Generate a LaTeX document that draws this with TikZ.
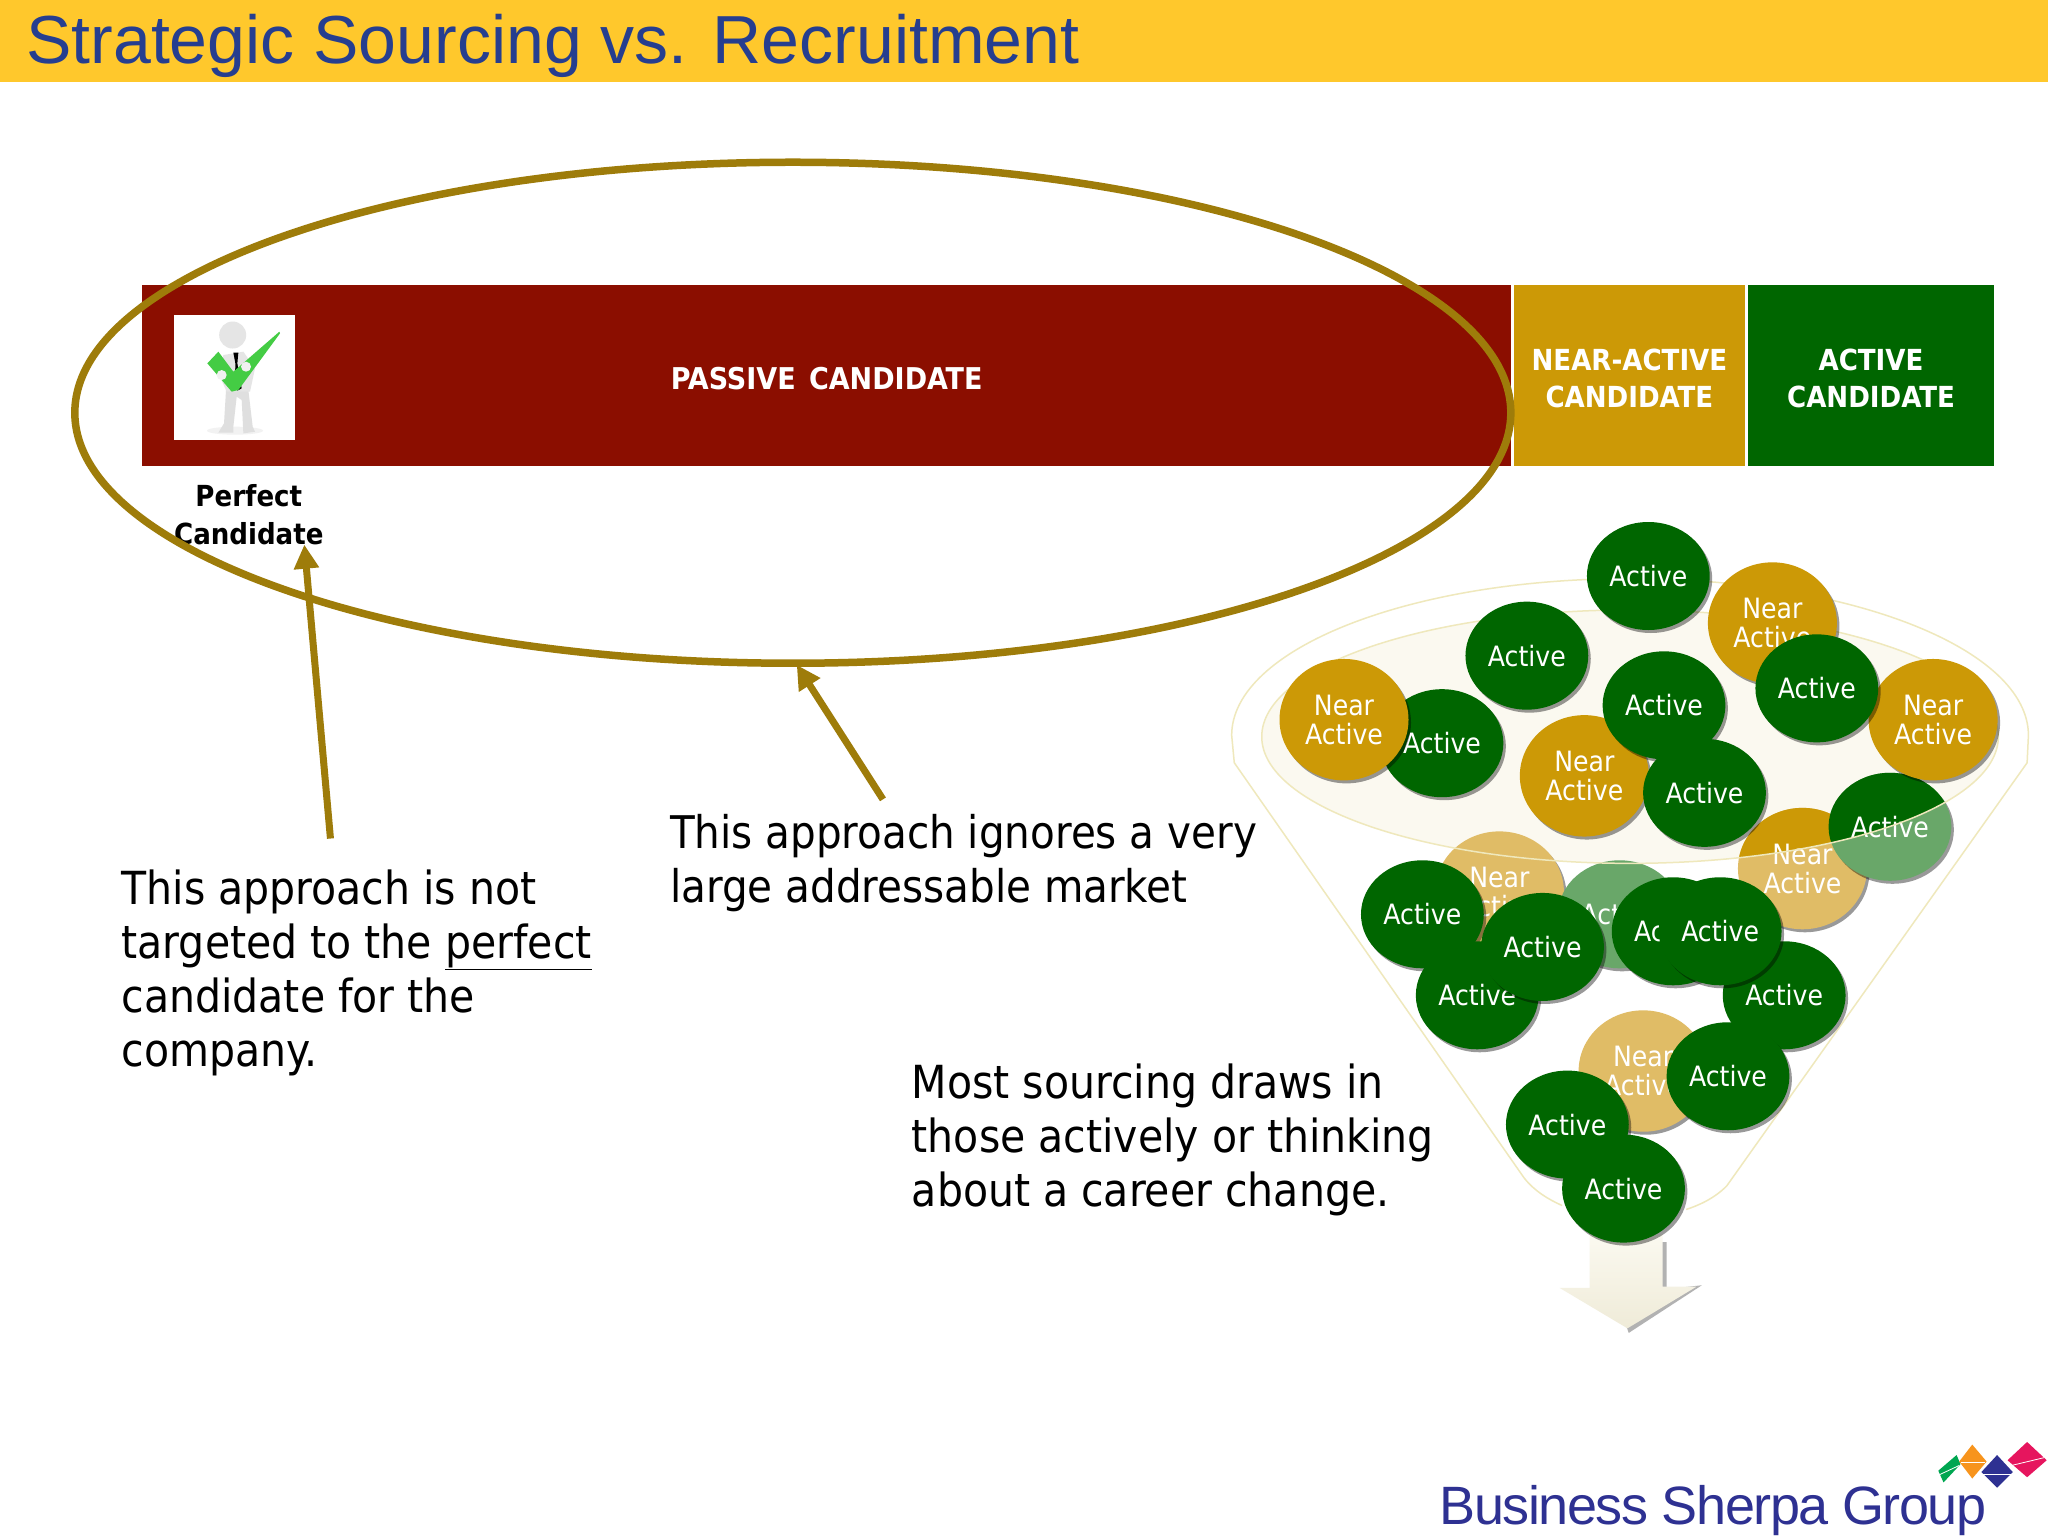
\documentclass[tikz,border=0pt]{standalone}
\usepackage{fontspec}
\setmainfont{DejaVu Sans Condensed}
\newfontfamily\arialf{Liberation Sans}
\usetikzlibrary{shapes.geometric,shadows,arrows.meta}
\definecolor{bandc}{HTML}{FFC82C}
\definecolor{titlec}{HTML}{263E8F}
\definecolor{redc}{HTML}{8B0E00}
\definecolor{goldc}{HTML}{CC9906}
\definecolor{greenc}{HTML}{006600}
\definecolor{lgoldc}{HTML}{E0BC66}
\definecolor{lgreenc}{HTML}{69A769}
\definecolor{ringc}{HTML}{9E7C0A}
\definecolor{funlc}{HTML}{EFE8BC}
\definecolor{creamc}{HTML}{FBF9F0}
\definecolor{arrowc}{HTML}{EFEBD8}
\definecolor{logoc}{HTML}{2E3192}
\definecolor{checkc}{HTML}{44CC44}
\definecolor{pinkc}{HTML}{E6155E}
\definecolor{orangec}{HTML}{F7941D}
\definecolor{dgreenc}{HTML}{00A651}
\tikzset{
 blob/.style={ellipse,inner sep=0pt,text=white,align=center,font=\fontsize{28}{29}\selectfont,
   drop shadow={shadow xshift=2.5pt,shadow yshift=-3pt,opacity=.4,fill=black}},
 act/.style={blob,fill=greenc,minimum width=122.8pt,minimum height=108pt},
 nearb/.style={blob,fill=goldc,minimum width=129pt,minimum height=121.4pt},
 actlt/.style={act,fill=lgreenc},
 nearlt/.style={nearb,fill=lgoldc},
 bar/.style={rectangle,inner sep=0pt,minimum height=181.5pt},
 bartext/.style={inner sep=0pt,text=white,align=center,font=\fontsize{29}{37}\selectfont\bfseries},
 ring/.style={draw=ringc,line width=7.5pt},
 pointer/.style={draw=ringc,line width=7pt,-{Triangle[length=24pt,width=24pt]}},
 body/.style={text=black,align=left,inner sep=0pt,anchor=north west,font=\fontsize{45.6}{54}\selectfont},
 funl/.style={draw=funlc,line width=1.5pt},
 blobtext/.style={text=white,align=center,inner sep=0pt,font=\fontsize{28}{29}\selectfont},
}
\begin{document}
\begin{tikzpicture}[x=1.30612pt,y=-1.30612pt]
\useasboundingbox (0,0) rectangle (1568,1176);
\fill[white] (0,0) rectangle (1568,1176);
% title band
\fill[bandc] (0,0) rectangle (1568,62.5);
\node[anchor=west,inner sep=0pt,text=titlec,font=\arialf\fontsize{68}{70}\selectfont] (title) at (20,35) {Strategic Sourcing vs. Recruitment};
% bars
\node[bar,fill=redc,minimum width=1368.8pt] (passive) at (633,287.5) {};
\node[bar,fill=goldc,minimum width=231.2pt] (nearbar) at (1247.5,287.5) {};
\node[bar,fill=greenc,minimum width=246.8pt] (actbar) at (1432.5,287.5) {};
\node[bartext,font=\fontsize{30}{37}\selectfont\bfseries] (passivet) at (633,290) {PASSIVE\hspace{4pt} CANDIDATE};
\node[bartext] (neart) at (1247.5,290) {NEAR-ACTIVE\\CANDIDATE};
\node[bartext] (actt) at (1432.5,290) {ACTIVE\\CANDIDATE};
% picture
\node[fill=white,inner sep=0pt,minimum width=121.5pt,minimum height=125.4pt] (photo) at (179.5,289) {};
\begin{scope}[shift={(91.9,214.4)},x=0.3333pt,y=-0.3333pt]
 \fill[gray!10] (345,452) ellipse [x radius=28pt,y radius=4pt];
 \fill[gray!25] (318,330)--(385,330)--(398,440)--(405,455)--(370,460)--(365,360)--(350,350)--(340,440)--(340,458)--(295,458)--(312,430)--cycle;
 \fill[gray!20] (310,225)--(370,215)--(405,265)--(390,335)--(320,335)--(300,290)--cycle;
 \fill[gray!20] (338,165) circle (13.5pt);
 \fill[black] (340,218)--(355,218)--(352,250)--(365,325)--(352,332)--(345,300)--(346,250)--cycle;
 \fill[checkc] (262,250)--(295,215)--(340,275)--(478,155)--(480,160)--(355,330)--(335,335)--cycle;
 \fill[gray!12] (305,285) circle (5pt);
 \fill[gray!12] (378,260) circle (5pt);
\end{scope}
\node[text=black,align=center,inner sep=0pt,font=\fontsize{29}{38}\selectfont\bfseries] (perfect) at (190.5,394) {Perfect\\Candidate};
% body text
\node[body] (t1) at (93,666) {This approach is not\\targeted to the \underline{perfect}\\candidate for the\\company.};
\node[body,font=\fontsize{45}{54}\selectfont] (t2) at (513,623) {This approach ignores a very\\large addressable market};
\node[body] (t3) at (698,814) {Most sourcing draws in\\those actively or thinking\\about a career change.};
% funnel
\fill[white] (943,563) .. controls (943,497) and (1079,443) .. (1248,443) .. controls (1417,443) and (1553,497) .. (1553,563) -- (1552,584) -- (1322,908) .. controls (1312,918) and (1300,923) .. (1291,926) -- (1196,923) .. controls (1185,918) and (1175,912) .. (1167,902) -- (945,584) -- cycle;
\node[ellipse,fill=creamc,inner sep=0pt,minimum width=736.6pt,minimum height=253.4pt] (mouthfill) at (1248,564) {};
% faded blobs behind funnel
\node[nearlt] (n9) at (1148,683) {Near\\Active};
\node[actlt] (a9) at (1240,700) {Active};
\node[nearlt] (n8) at (1380,665) {};
\node[actlt] (a8) at (1447,633) {};
\begin{scope}
 \clip (1248,564) ellipse [x radius=368.3pt,y radius=126.7pt];
 \fill[goldc] (1380,665) ellipse [x radius=64.5pt,y radius=60.7pt];
 \fill[greenc] (1447,633) ellipse [x radius=61.4pt,y radius=54pt];
\end{scope}
\node[blobtext] (n8t) at (n8) {Near\\Active};
\node[blobtext] (a8t) at (a8) {Active};
\node[ellipse,funl,inner sep=0pt,minimum width=736.6pt,minimum height=253.4pt] (mouth) at (1248,564) {};
\draw[funl] (945,584) -- (943,563) .. controls (943,497) and (1079,443) .. (1248,443) .. controls (1417,443) and (1553,497) .. (1553,563) -- (1552,584) -- (1322,908) .. controls (1312,918) and (1300,923) .. (1291,926);
\draw[funl] (945,584) -- (1167,902) .. controls (1175,912) and (1185,918) .. (1196,923);
% down arrow
\fill[black!60,opacity=.5] (1222,951) -- (1276,951) -- (1276,987) -- (1303,984) -- (1247,1020.5) -- cycle;
\shade[top color=creamc,bottom color=arrowc] (1217,945) -- (1273,945) -- (1273,985) -- (1299,985) -- (1246,1017) -- (1194,986) -- (1217,986) -- cycle;
% solid blobs
\node[act] (a1) at (1262,441) {Active};
\node[nearb] (n1) at (1357,477) {Near\\Active};
\node[nearb] (n2) at (1480,551) {Near\\Active};
\node[act] (a2) at (1391,527) {Active};
\node[act] (a3) at (1169,502) {Active};
\node[act] (a4) at (1104,569) {Active};
\node[nearb] (n3) at (1029,551) {Near\\Active};
\node[nearb] (n4) at (1213,594) {Near\\Active};
\node[act] (a5) at (1274,540) {Active};
\node[act] (a6) at (1305,607) {Active};
\node[act] (a7) at (1089,700) {Active};
\node[act] (a10) at (1131,762) {Active};
\node[act] (a11) at (1181,725) {Active};
\node[act] (a12) at (1281,713) {Active};
\node[act] (a13) at (1366,762) {Active};
\node[act] (a14) at (1317,713) {Active};
\node[nearlt] (n5) at (1258,820) {Near\\Active};
\node[act] (a15) at (1323,824) {Active};
\node[act] (a16) at (1200,861) {Active};
\node[act] (a17) at (1243,910) {Active};
% ring and pointers
\node[ellipse,ring,inner sep=0pt,minimum width=1436pt,minimum height=501pt] (oval) at (607,316) {};
\coordinate (p1s) at (253,642);
\coordinate (p1e) at (233,417);
\coordinate (p2s) at (676,612);
\coordinate (p2e) at (610,509);
\draw[pointer] (p1s) -- (p1e);
\draw[pointer] (p2s) -- (p2e);
% logo
\node[anchor=base west,inner sep=0pt,text=logoc,font=\arialf\fontsize{54}{56}\selectfont\addfontfeatures{LetterSpace=-2.7}] (logo) at (1102,1167) {Business Sherpa Group};
\fill[dgreenc] (1498,1114) -- (1501,1121) -- (1488,1135) -- (1484,1126) -- cycle;
\fill[orangec] (1510,1106) -- (1521,1119) -- (1510,1132) -- (1500,1119) -- cycle;
\fill[logoc] (1529,1114) -- (1541,1127) -- (1529,1139) -- (1517,1127) -- cycle;
\fill[pinkc] (1552,1104) -- (1567,1118) -- (1552,1131) -- (1537,1118) -- cycle;
\draw[white,line width=0.8pt] (1485,1129) -- (1500,1122);
\draw[white,line width=0.8pt] (1501,1120) -- (1520,1120);
\draw[white,line width=0.8pt] (1518,1129) -- (1540,1129);
\draw[white,line width=0.8pt] (1540,1122) -- (1565,1116);
\end{tikzpicture}
\end{document}
